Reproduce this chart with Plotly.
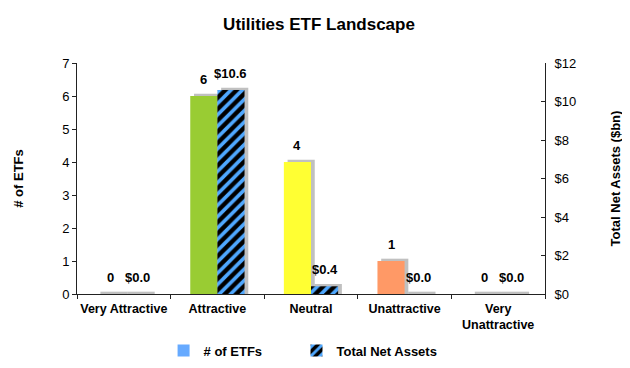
import plotly.graph_objects as go

categories = ["Very Attractive", "Attractive", "Neutral", "Unattractive", "Very<br>Unattractive"]
etf_counts = [0, 6, 4, 1, 0]
net_assets = [0.0, 10.6, 0.4, 0.0, 0.0]
count_labels = ["0", "6", "4", "1", "0"]
asset_labels = ["$0.0", "$10.6", "$0.4", "$0.0", "$0.0"]
count_colors = ["#66AAFF", "#99CC33", "#FFFF33", "#FF9966", "#66AAFF"]
left_ticks = [0, 1, 2, 3, 4, 5, 6, 7]
right_ticks = [0, 2, 4, 6, 8, 10, 12]
right_tick_labels = ["$0", "$2", "$4", "$6", "$8", "$10", "$12"]

W = 0.29
SH = 0.04
shadow = "rgba(130,130,130,0.5)"
BAR_PX = W * 468 / 5

fig = go.Figure()
# shadows
fig.add_trace(go.Bar(x=categories, y=[v + 0.07 for v in etf_counts], width=W, offset=-W + SH,
                     marker=dict(color=shadow, line=dict(width=0)), showlegend=False, hoverinfo="skip"))
fig.add_trace(go.Bar(x=categories, y=[v + 0.12 for v in net_assets], width=W, offset=SH, yaxis="y2",
                     marker=dict(color=shadow, line=dict(width=0)), showlegend=False, hoverinfo="skip"))
# main bars
fig.add_trace(go.Bar(x=categories, y=etf_counts, width=W, offset=-W, name="# of ETFs", legend="legend",
                     marker=dict(color=count_colors, line=dict(width=0))))
fig.add_trace(go.Bar(x=categories, y=net_assets, width=W, offset=0, name="Total Net Assets", yaxis="y2",
                     legend="legend2",
                     marker=dict(color="black", line=dict(width=0),
                                 pattern=dict(shape="/", fgcolor="#4FA8FF", fgopacity=1, bgcolor="black",
                                              size=8, solidity=0.45))))

for c, v, t in zip(categories, etf_counts, count_labels):
    fig.add_annotation(x=c, y=v, xref="x", yref="y", text="<b>" + t + "</b>", showarrow=False,
                       xshift=-BAR_PX / 2, yshift=7, yanchor="bottom",
                       font=dict(family="Arial", size=13, color="black"))
for c, v, t in zip(categories, net_assets, asset_labels):
    fig.add_annotation(x=c, y=v, xref="x", yref="y2", text="<b>" + t + "</b>", showarrow=False,
                       xshift=BAR_PX / 2, yshift=7, yanchor="bottom",
                       font=dict(family="Arial", size=13, color="black"))

legend_font = dict(family="Arial", size=13, color="black", weight="bold")
fig.update_layout(
    width=622, height=360,
    margin=dict(l=69, r=85, t=55, b=74, autoexpand=False),
    paper_bgcolor="white", plot_bgcolor="white",
    barmode="overlay",
    font=dict(family="Arial", size=12, color="black"),
    title=dict(text="<b>Utilities ETF Landscape</b>", x=0.5, xanchor="center", y=0.955, yanchor="middle",
               font=dict(family="Arial", size=17, color="black")),
    xaxis=dict(showline=True, linecolor="#222", linewidth=1, ticks="outside", ticklen=4, tickcolor="#222",
               tickson="boundaries", tickfont=dict(family="Arial", size=12.5, color="black"),
               tickangle=0, showgrid=False, automargin=False, ticklabelstandoff=3,
               tickvals=categories, ticktext=["<b>" + c + "</b>" for c in categories]),
    yaxis=dict(range=[0, 7], tickvals=left_ticks, showline=True, linecolor="#222", linewidth=1,
               ticks="outside", ticklen=4, tickcolor="#222", showgrid=False, zeroline=False,
               automargin=False,
               title=dict(text="<b># of ETFs</b>", font=dict(size=13), standoff=35),
               tickfont=dict(size=13)),
    yaxis2=dict(range=[0, 12], tickvals=right_ticks, ticktext=right_tick_labels, overlaying="y", side="right",
                showline=True, linecolor="#222", linewidth=1, ticks="inside", ticklen=4, tickcolor="#222",
                showgrid=False, zeroline=False, automargin=False, ticklabelstandoff=6,
                title=dict(text="<b>Total Net Assets ($bn)</b>", font=dict(size=13), standoff=35),
                tickfont=dict(size=13)),
    legend=dict(orientation="h", x=0.185, xanchor="left", y=-0.18, yanchor="top",
                font=legend_font, itemwidth=30),
    legend2=dict(orientation="h", x=0.469, xanchor="left", y=-0.18, yanchor="top",
                 font=legend_font, itemwidth=30),
)

fig.write_html("out.html")
